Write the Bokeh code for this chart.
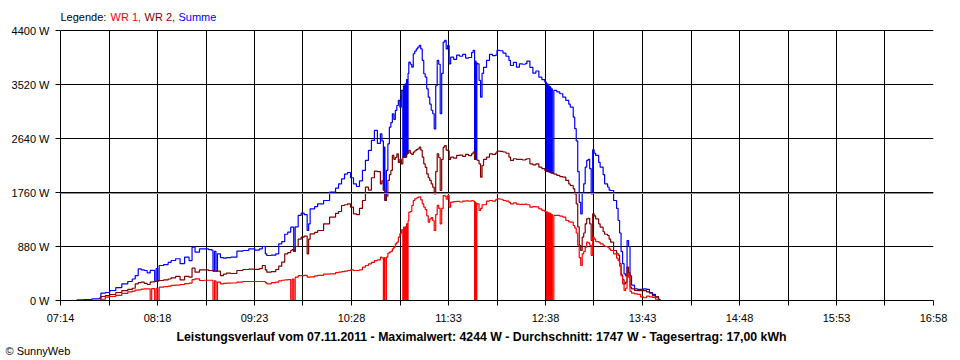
from bokeh.plotting import figure
from bokeh.models import Range1d, FixedTicker, Span, Title, ColumnDataSource
from bokeh.core.properties import value
from bokeh.embed import file_html
from bokeh.resources import INLINE

# ---- data (time, WR 1, WR 2, Summe in W) ----
times = ["07:14", "07:25", "07:30", "07:35", "07:40", "07:41", "07:44", "07:47", "07:51", "07:55",
         "07:59", "08:02", "08:04", "08:06", "08:08", "08:10", "08:12", "08:14", "08:15", "08:17",
         "08:18", "08:19", "08:20", "08:23", "08:26", "08:28", "08:31", "08:34", "08:37", "08:40",
         "08:42", "08:44", "08:47", "08:50", "08:53", "08:55", "08:56", "08:57", "08:58", "08:59",
         "09:01", "09:03", "09:05", "09:08", "09:12", "09:16", "09:20", "09:24", "09:27", "09:29",
         "09:31", "09:32", "09:35", "09:38", "09:40", "09:42", "09:44", "09:46", "09:48", "09:49",
         "09:50", "09:51", "09:53", "09:55", "09:57", "09:59", "10:00", "10:01", "10:04", "10:06",
         "10:10", "10:14", "10:18", "10:20", "10:22", "10:24", "10:26", "10:28", "10:30", "10:32",
         "10:34", "10:36", "10:38", "10:40", "10:42", "10:44", "10:46", "10:48", "10:49", "10:50",
         "10:50:30", "10:51", "10:52", "10:53", "10:54", "10:55", "10:56", "10:57", "10:58", "10:59",
         "11:00", "11:01", "11:02", "11:03", "11:03:30", "11:04", "11:04:30", "11:05", "11:05:30", "11:06",
         "11:06:30", "11:07", "11:08", "11:09", "11:10", "11:11", "11:12", "11:13", "11:14", "11:15",
         "11:16", "11:17", "11:18", "11:19", "11:20", "11:21", "11:22", "11:23", "11:24", "11:25",
         "11:26", "11:27", "11:28", "11:29", "11:30", "11:31", "11:32", "11:33", "11:34", "11:35",
         "11:37", "11:39", "11:41", "11:43", "11:45", "11:47", "11:49", "11:50", "11:51", "11:51:30",
         "11:52", "11:52:30", "11:53", "11:54", "11:55", "11:56", "11:57", "11:59", "12:01", "12:03",
         "12:05", "12:06", "12:08", "12:10", "12:12", "12:14", "12:15", "12:17", "12:19", "12:21",
         "12:23", "12:25", "12:26", "12:28", "12:30", "12:32", "12:34", "12:36", "12:38", "12:39",
         "12:39:30", "12:40", "12:40:30", "12:41", "12:41:30", "12:42", "12:42:30", "12:43", "12:44", "12:46",
         "12:48", "12:50", "12:52", "12:54", "12:55", "12:57", "12:58", "12:59", "13:00", "13:01",
         "13:02", "13:03", "13:04", "13:05", "13:06", "13:07", "13:08", "13:09", "13:10", "13:11",
         "13:12", "13:14", "13:15", "13:17", "13:18", "13:20", "13:21", "13:22", "13:24", "13:26",
         "13:27", "13:28", "13:29", "13:30", "13:31", "13:32", "13:33", "13:34", "13:35", "13:36",
         "13:38", "13:40", "13:42", "13:44", "13:46", "13:48", "13:50", "13:52", "13:54", "13:55"]

wr1 = [0, 0, 0, 0, 0, 20, 54, 65, 85, 115,
       140, 152, 170, 174, 185, 190, 190, 0, 195, 0,
       200, 0, 217, 225, 235, 245, 250, 261, 275, 282,
       340, 353, 326, 330, 330, 330, 0, 320, 0, 300,
       272, 280, 282, 285, 300, 310, 310, 310, 310, 310,
       290, 272, 290, 300, 320, 330, 337, 340, 0, 350,
       0, 380, 407, 407, 410, 380, 380, 385, 400, 410,
       430, 435, 455, 461, 470, 480, 489, 500, 489, 489,
       500, 543, 570, 598, 620, 650, 663, 706, 695, 0,
       700, 0, 706, 771, 787, 800, 842, 870, 924, 950,
       1032, 1086, 1150, 0, 1195, 0, 1200, 0, 1250, 0,
       1300, 1439, 1450, 1548, 1630, 1657, 1670, 1684, 1690, 1640,
       1576, 1521, 1480, 1380, 1276, 1330, 1350, 1300, 1141, 1400,
       1550, 1500, 1250, 1500, 1711, 1700, 1650, 1711, 1521, 1603,
       1610, 1616, 1605, 1620, 1625, 1620, 1630, 1619, 0, 1600,
       0, 1580, 1576, 1467, 1500, 1560, 1560, 1620, 1630, 1620,
       1640, 1657, 1650, 1630, 1620, 1600, 1576, 1590, 1570, 1565,
       1565, 1570, 1560, 1521, 1530, 1525, 1494, 1470, 1450, 0,
       1440, 0, 1430, 0, 1420, 0, 1400, 0, 1386, 1386,
       1375, 1360, 1304, 1280, 1276, 1222, 1180, 1100, 900, 700,
       570, 760, 800, 869, 951, 940, 900, 733, 1032, 1000,
       960, 951, 924, 900, 880, 869, 840, 815, 760, 690,
       650, 560, 400, 272, 163, 200, 435, 380, 150, 120,
       109, 100, 60, 45, 70, 60, 50, 20, 0, 0]

wr2 = [0, 0, 0, 0, 0, 65, 80, 98, 130, 160,
       180, 200, 270, 290, 300, 280, 261, 300, 305, 310,
       315, 320, 326, 336, 350, 370, 392, 336, 392, 380,
       527, 461, 500, 500, 489, 489, 480, 480, 478, 478,
       407, 430, 445, 440, 489, 505, 510, 508, 520, 570,
       500, 461, 470, 505, 560, 625, 760, 780, 815, 830,
       800, 880, 1000, 1032, 1050, 760, 1000, 1086, 1110, 1141,
       1250, 1358, 1420, 1450, 1548, 1560, 1576, 1521, 1413, 1400,
       1500, 1630, 1847, 1800, 2000, 2108, 2100, 1901, 1950, 1800,
       1800, 1630, 1700, 1956, 2050, 2119, 2364, 2300, 2330, 2390,
       2250, 2300, 2227, 2336, 2336, 2336, 2336, 2336, 2380, 2400,
       2400, 2445, 2400, 2380, 2417, 2440, 2460, 2472, 2499, 2450,
       2336, 2227, 2170, 2064, 2000, 1956, 1900, 1847, 1738, 2100,
       2390, 2330, 1793, 2300, 2499, 2526, 2450, 2440, 2300, 2336,
       2320, 2364, 2370, 2350, 2380, 2360, 2390, 2417, 2300, 2300,
       2300, 2290, 2282, 2227, 2010, 2200, 2300, 2336, 2390, 2380,
       2401, 2434, 2430, 2420, 2400, 2336, 2282, 2310, 2300, 2300,
       2290, 2300, 2310, 2227, 2210, 2227, 2173, 2150, 2120, 2108,
       2108, 2100, 2100, 2090, 2090, 2080, 2080, 2075, 2060, 2040,
       2020, 2010, 1956, 1900, 1874, 1820, 1738, 1576, 1200, 900,
       815, 1032, 1100, 1250, 1331, 1340, 1250, 978, 1413, 1380,
       1330, 1250, 1195, 1120, 1080, 1059, 1000, 951, 815, 770,
       740, 600, 420, 340, 272, 300, 543, 450, 217, 190,
       163, 160, 160, 160, 140, 120, 81, 60, 20, 0]

summe = [0, 10, 15, 25, 40, 120, 130, 163, 210, 270,
         310, 350, 407, 516, 500, 489, 450, 490, 490, 310,
         520, 320, 570, 586, 620, 652, 680, 600, 706, 650,
         869, 787, 840, 840, 830, 820, 480, 800, 478, 760,
         700, 690, 700, 706, 804, 815, 842, 820, 840, 880,
         760, 733, 738, 760, 924, 960, 1080, 1113, 1195, 1195,
         800, 1200, 1386, 1423, 1400, 1141, 1250, 1494, 1530, 1576,
         1630, 1765, 1830, 1900, 1983, 2060, 2086, 2000, 1900, 1858,
         1950, 2119, 2282, 2445, 2608, 2771, 2560, 2717, 2600, 1800,
         2500, 1630, 2119, 2554, 2825, 2900, 3043, 2950, 3097, 3178,
         3260, 3150, 3423, 2336, 3500, 2336, 3530, 2336, 3600, 2400,
         3700, 3884, 3850, 3803, 4021, 4064, 4100, 4130, 4157, 4100,
         3912, 3695, 3640, 3450, 3314, 3200, 3100, 3043, 2798, 3500,
         3912, 3850, 3043, 3700, 4211, 4238, 4100, 4157, 3857, 3966,
         3930, 4000, 3980, 4010, 3950, 3960, 4040, 4075, 2300, 3900,
         2300, 3870, 3857, 3586, 3314, 3700, 3800, 3912, 4010, 3990,
         4000, 4075, 4070, 4031, 3980, 3912, 3830, 3880, 3803, 3857,
         3850, 3860, 3901, 3800, 3705, 3740, 3640, 3600, 3559, 2108,
         3532, 2100, 3500, 2090, 3480, 2080, 3450, 2075, 3423, 3400,
         3369, 3314, 3260, 3200, 3151, 2988, 2800, 2600, 2100, 1600,
         1412, 1750, 1901, 2173, 2282, 2300, 2150, 1738, 2456, 2400,
         2364, 2250, 2173, 2050, 1901, 1850, 1800, 1793, 1630, 1500,
         1304, 1100, 800, 600, 435, 400, 978, 880, 400, 250,
         190, 180, 180, 190, 180, 130, 100, 60, 20, 0]

# ---- axes ----
y_ticks = [0, 880, 1760, 2640, 3520, 4400]
y_labels = ["0 W", "880 W", "1760 W", "2640 W", "3520 W", "4400 W"]
x_tick_times = ["07:14:00", "08:18:53", "09:23:47", "10:28:40", "11:33:33",
                "12:38:27", "13:43:20", "14:48:13", "15:53:07", "16:58:00"]
x_tick_labels = ["07:14", "08:18", "09:23", "10:28", "11:33", "12:38", "13:43", "14:48", "15:53", "16:58"]
x_minor_times = ["07:46:27", "08:51:20", "09:56:13", "11:01:07", "12:06:00",
                 "13:10:53", "14:15:47", "15:20:40", "16:25:33"]

legend_texts = ["Legende:", "WR 1,", "WR 2,", "Summe"]
legend_colors = ["black", "#FF0000", "#800000", "#0000FF"]
title_text = ("Leistungsverlauf vom 07.11.2011 - Maximalwert: 4244 W - "
              "Durchschnitt: 1747 W - Tagesertrag: 17,00 kWh")
credit_text = "\u00a9 SunnyWeb"


def to_sec(s):
    parts = [int(v) for v in s.split(":")]
    while len(parts) < 3:
        parts.append(0)
    return parts[0] * 3600 + parts[1] * 60 + parts[2]


x = [to_sec(t) for t in times]
xt = [to_sec(t) for t in x_tick_times]
xm = [to_sec(t) for t in x_minor_times]
x0, x1 = xt[0], xt[-1]
y_top = y_ticks[-1]

FONT = "Liberation Sans"
FRAME_W, PLOT_H, HEAD = 873, 270, 22      # pixel sizes of the plot body and the legend strip
spx = (x1 - x0) / FRAME_W                 # seconds per pixel
wpx = y_top / PLOT_H                      # watts per pixel

p = figure(width=952, height=360, output_backend="svg", toolbar_location=None,
           x_range=Range1d(x0, x1), y_range=Range1d(0, y_top + HEAD * wpx),
           min_border_left=60, min_border_right=19, min_border_top=8, min_border_bottom=60,
           background_fill_color="white", border_fill_color="white")

p.outline_line_color = None

p.xaxis.ticker = FixedTicker(ticks=xt, minor_ticks=xm)
p.xaxis.major_label_overrides = {k: v for k, v in zip(xt, x_tick_labels)}
p.yaxis.ticker = FixedTicker(ticks=y_ticks, minor_ticks=[])
p.yaxis.major_label_overrides = {k: v for k, v in zip(y_ticks, y_labels)}
p.yaxis.bounds = (0, y_top)

for ax in (p.xaxis, p.yaxis):
    ax.axis_line_color = "black"
    ax.major_tick_line_color = "black"
    ax.major_tick_out = 5
    ax.major_tick_in = 0
    ax.major_label_text_font = FONT
    ax.major_label_text_font_size = "11px"
    ax.major_label_text_color = "black"
p.xaxis.minor_tick_line_color = "black"
p.xaxis.minor_tick_out = 5
p.xaxis.minor_tick_in = 0
p.yaxis.minor_tick_line_color = None
p.xaxis.major_label_standoff = 6
p.yaxis.major_label_standoff = 6

p.ygrid.grid_line_color = "black"
g = p.xgrid[0]
if "cross_bounds" in g.properties():
    g.cross_bounds = (0, y_top)
    g.grid_line_color = "black"
    g.minor_grid_line_color = "black"
else:
    g.visible = False
    gx = sorted(xt + xm)
    p.segment(x0=gx, y0=[0] * len(gx), x1=gx, y1=[y_top] * len(gx),
              line_color="black", line_width=1)

# the 1760 W line is drawn doubled (black + grey) in the original
p.add_layout(Span(location=y_ticks[2] - wpx, dimension="width", line_color="#909090", line_width=1))

p.step(x, summe, mode="after", line_color="#0000FF", line_width=1.2)
p.step(x, wr2, mode="after", line_color="#800000", line_width=1.2)
p.step(x, wr1, mode="after", line_color="#FF0000", line_width=1.2)

# ---- legend line at the top (inside the legend strip of the frame) ----
legend_px = [0, 50, 84, 118]   # pixel offsets from the left edge of the plot
leg_src = ColumnDataSource(dict(x=[x0 + o * spx for o in legend_px],
                                y=[y_top + 14 * wpx] * len(legend_texts),
                                text=legend_texts, color=legend_colors))
p.text(x="x", y="y", text="text", text_color="color", source=leg_src,
       text_font=value(FONT), text_font_size="11px", text_baseline="middle", text_align="left")

p.add_layout(Title(text=title_text, align="left", text_font=FONT, text_font_size="12.3px",
                   text_font_style="bold", text_color="black", standoff=3, offset=116), "below")
p.add_layout(Title(text=credit_text, align="left", text_font=FONT, text_font_size="11px",
                   text_font_style="normal", text_color="black", standoff=-6, offset=-55), "below")

open("out.html", "w").write(file_html(p, INLINE))
